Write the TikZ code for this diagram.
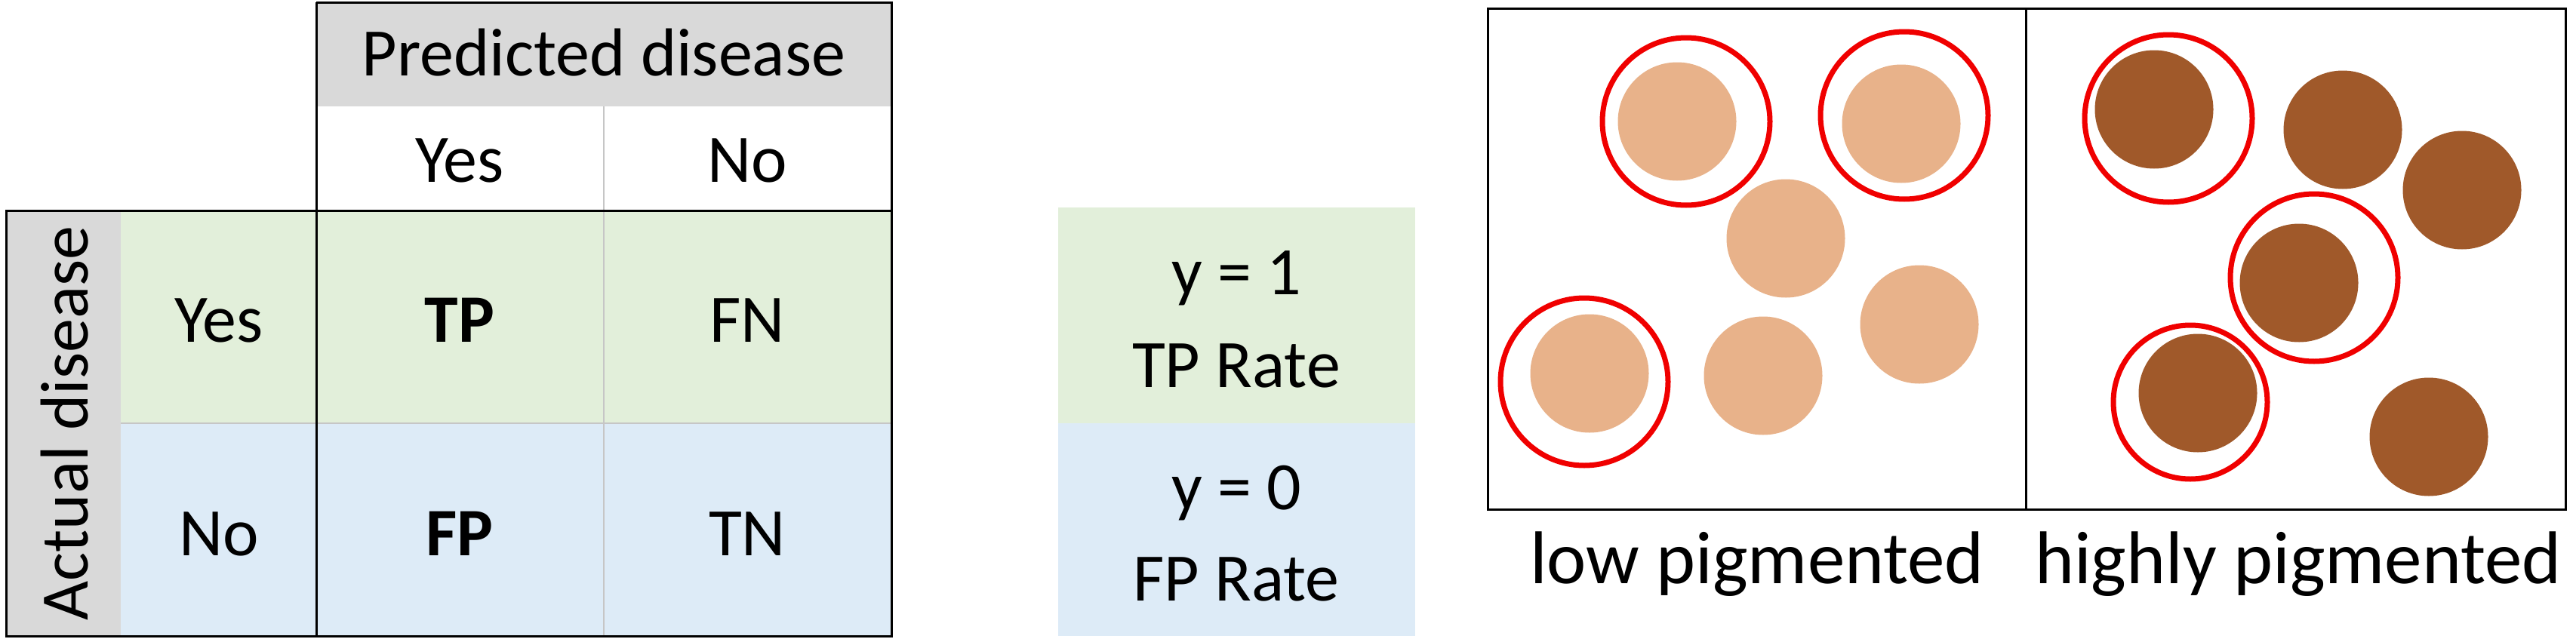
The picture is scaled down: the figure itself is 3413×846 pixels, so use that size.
\documentclass[tikz,border=0pt]{standalone}
\usepackage{fontspec}
\setmainfont{Carlito}
\definecolor{cgreen}{HTML}{E2EFDA}
\definecolor{cblue}{HTML}{DDEBF7}
\definecolor{cgray}{HTML}{D9D9D9}
\definecolor{cline}{HTML}{C6C6C6}
\definecolor{light}{HTML}{E8B28A}
\definecolor{dark}{HTML}{A0592A}
\definecolor{ringred}{HTML}{F00000}
\tikzset{
  txt/.style={font=\fontsize{90}{108}\selectfont, inner sep=0pt, anchor=base},
  bigtxt/.style={font=\fontsize{99}{118}\selectfont, inner sep=0pt, anchor=base},
  bline/.style={line width=3pt, black},
  gline/.style={line width=2pt, cline},
  cell/.style={circle, inner sep=0pt, minimum size=157pt},
  ring/.style={circle, draw=ringred, line width=7pt, inner sep=0pt, minimum size=222pt},
}
\begin{document}
\begin{tikzpicture}[x=1pt,y=-1pt]
\useasboundingbox (0,0) rectangle (3413,846);
% ---- confusion matrix ----
\fill[cgray] (419,3) rectangle (1181,141);
\fill[cgray] (8,279) rectangle (160,843);
\fill[cgreen] (160,279) rectangle (1181,561);
\fill[cblue] (160,561) rectangle (1181,843);
\draw[gline] (800,141) -- (800,843);
\draw[gline] (160,561) -- (1181,561);
\draw[bline] (419,3) -- (1181,3) -- (1181,843) -- (8,843) -- (8,279) -- (1181,279);
\draw[bline] (419,3) -- (419,843);
\node[txt] (pred) at (800,100) {Predicted disease};
\node[txt] (pyes) at (609,241) {Yes};
\node[txt] (pno) at (990,241) {No};
\node[txt, rotate=90] (act) at (116,561) {Actual disease};
\node[txt] (ayes) at (290,453) {Yes};
\node[txt] (ano) at (290,736) {No};
\node[txt] (tp) at (609,453) {\bfseries TP};
\node[txt] (fn) at (990,453) {FN};
\node[txt] (fp) at (609,736) {\bfseries FP};
\node[txt] (tn) at (990,736) {TN};
% ---- middle panel ----
\fill[cgreen] (1402,275) rectangle (1875,561);
\fill[cblue] (1402,561) rectangle (1875,843);
\node[txt] (y1) at (1638,390) {y = 1};
\node[txt] (tpr) at (1638,513) {TP Rate};
\node[txt] (y0) at (1638,675) {y = 0};
\node[txt] (fpr) at (1638,796) {FP Rate};
% ---- right panel ----
\draw[bline] (1971,11) rectangle (3399,675);
\draw[bline] (2684,11) -- (2684,675);
\node[cell, fill=light] (l1) at (2222,161) {};
\node[cell, fill=light] (l2) at (2519,164) {};
\node[cell, fill=light] (l3) at (2366,316) {};
\node[cell, fill=light] (l4) at (2543,430) {};
\node[cell, fill=light] (l5) at (2336,498) {};
\node[cell, fill=light] (l6) at (2106,495) {};
\node[ring] (r1) at (2234,161) {};
\node[ring] (r2) at (2523,153) {};
\node[ring] (r6) at (2099,506) {};
\node[cell, fill=dark] (d1) at (2854,145) {};
\node[cell, fill=dark] (d2) at (3104,172) {};
\node[cell, fill=dark] (d3) at (3262,252) {};
\node[cell, fill=dark] (d4) at (3046,375) {};
\node[cell, fill=dark] (d5) at (2912,521) {};
\node[cell, fill=dark] (d6) at (3218,579) {};
\node[ring] (q1) at (2873,157) {};
\node[ring] (q4) at (3066,368) {};
\node[ring, minimum size=204pt] (q5) at (2902,533) {};
\node[bigtxt] (low) at (2328,773) {low pigmented};
\node[bigtxt] (high) at (3045,773) {highly pigmented};
\end{tikzpicture}
\end{document}
